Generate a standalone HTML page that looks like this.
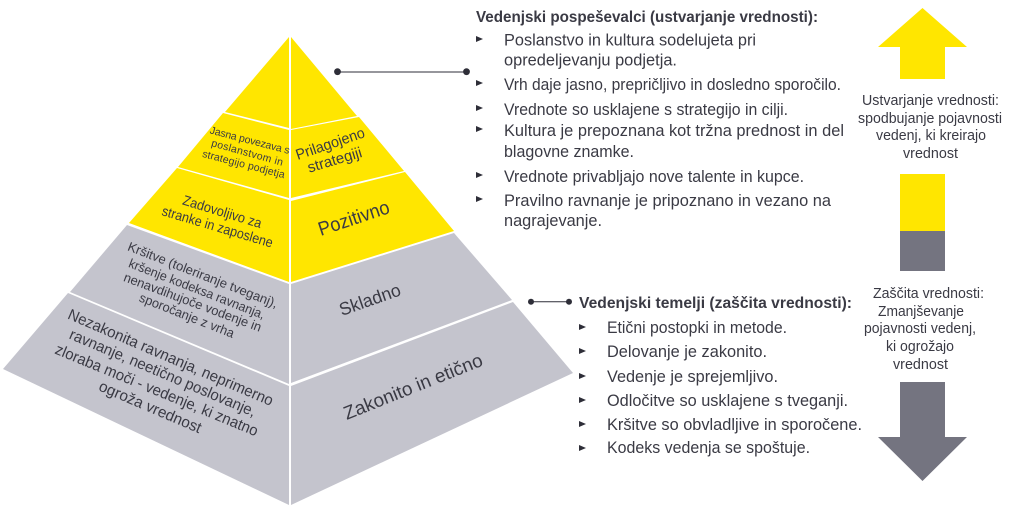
<!DOCTYPE html>
<html lang="sl">
<head>
<meta charset="utf-8">
<title>Vedenjska piramida</title>
<style>
html,body{margin:0;padding:0;background:#fff;width:1016px;height:508px;overflow:hidden}
svg{display:block}
text{font-family:"Liberation Sans","DejaVu Sans",sans-serif;fill:#3A3A44}
</style>
</head>
<body>
<svg width="1016" height="508" viewBox="0 0 1016 508" xmlns="http://www.w3.org/2000/svg">
<rect width="1016" height="508" fill="#fff"/>
<!-- pyramid -->
<g fill="#FFE600">
<polygon points="289,37 289,128 225,112"/>
<polygon points="291,37 357,116 291,129"/>
<polygon points="223,113 289,130 289,198 178,167"/>
<polygon points="291,130 359,117 404,171 291,198"/>
<polygon points="177,168 289,200 289,282 129,223"/>
<polygon points="291,201 405,172 454,231 291,282"/>
</g>
<g fill="#C4C4CD">
<polygon points="127,225 289,284 289,384 70,292"/>
<polygon points="291,284 454,233 512,300 291,383"/>
<polygon points="68,293 289,386 289,505 3,369"/>
<polygon points="291,386 513,302 573,373 291,505"/>
</g>
<!-- connectors -->
<g stroke="#2E2E38" fill="#2E2E38">
<line x1="337" y1="72" x2="467" y2="72" stroke-width="1"/>
<circle cx="337.5" cy="71.7" r="3.4" stroke="none"/>
<circle cx="466.5" cy="71.7" r="3.4" stroke="none"/>
<line x1="531" y1="301.7" x2="569" y2="301.7" stroke-width="1"/>
<circle cx="531" cy="301.7" r="3" stroke="none"/>
<circle cx="569" cy="301.7" r="3" stroke="none"/>
</g>
<!-- pyramid labels -->
<g font-size="10.5">
<text transform="translate(209.3,133.3) rotate(14.6)" textLength="82" lengthAdjust="spacing">Jasna povezava s</text>
<text transform="translate(210.7,146) rotate(15.5)" textLength="74" lengthAdjust="spacing">poslanstvom  in</text>
<text transform="translate(201.7,156.7) rotate(14.7)" textLength="85" lengthAdjust="spacing">strategijo podjetja</text>
</g>
<g font-size="15">
<text transform="translate(297.7,160) rotate(-18.8)" textLength="72" lengthAdjust="spacingAndGlyphs">Prilagojeno</text>
<text transform="translate(309.3,172.7) rotate(-16.7)" textLength="56" lengthAdjust="spacingAndGlyphs">strategiji</text>
<text transform="translate(181.7,204.3) rotate(17)" font-size="14" textLength="82" lengthAdjust="spacingAndGlyphs">Zadovoljivo za</text>
<text transform="translate(161,215) rotate(16.5)" font-size="14" textLength="115" lengthAdjust="spacingAndGlyphs">stranke in zaposlene</text>
<text transform="translate(320.7,236) rotate(-18.4)" font-size="19.5" textLength="74" lengthAdjust="spacingAndGlyphs">Pozitivno</text>
<text transform="translate(126.7,250) rotate(21.3)" font-size="13" textLength="160" lengthAdjust="spacingAndGlyphs">Kršitve (toleriranje tveganj),</text>
<text transform="translate(127.7,266.7) rotate(21.2)" font-size="13" textLength="145" lengthAdjust="spacingAndGlyphs">kršenje kodeksa ravnanja,</text>
<text transform="translate(122.7,280.7) rotate(20.5)" font-size="13" textLength="146" lengthAdjust="spacingAndGlyphs">nenavdihujoče vodenje  in</text>
<text transform="translate(138.3,301) rotate(21.5)" font-size="13" textLength="101" lengthAdjust="spacingAndGlyphs">sporočanje z vrha</text>
<text transform="translate(341.7,316) rotate(-19.3)" font-size="18" textLength="64" lengthAdjust="spacingAndGlyphs">Skladno</text>
<text transform="translate(66.7,318.3) rotate(23.3)" font-size="15.5" textLength="222" lengthAdjust="spacingAndGlyphs">Nezakonita ravnanja, neprimerno</text>
<text transform="translate(68.3,338.3) rotate(23)" font-size="15.5" textLength="201" lengthAdjust="spacingAndGlyphs">ravnanje, neetično poslovanje,</text>
<text transform="translate(54,353.3) rotate(22.4)" font-size="15.5" textLength="218" lengthAdjust="spacingAndGlyphs">zloraba moči - vedenje, ki znatno</text>
<text transform="translate(97.7,390) rotate(23.2)" font-size="15.5" textLength="110" lengthAdjust="spacingAndGlyphs">ogroža vrednost</text>
<text transform="translate(346.7,420) rotate(-21.8)" font-size="19" textLength="148" lengthAdjust="spacingAndGlyphs">Zakonito in etično</text>
</g>
<!-- upper list -->
<text x="476" y="22" font-size="16" font-weight="bold" textLength="342" lengthAdjust="spacingAndGlyphs">Vedenjski pospeševalci (ustvarjanje vrednosti):</text>
<g font-size="17">
<text x="504" y="45.5" textLength="252" lengthAdjust="spacingAndGlyphs">Poslanstvo in kultura sodelujeta pri</text>
<text x="504" y="65.5" textLength="173" lengthAdjust="spacingAndGlyphs">opredeljevanju podjetja.</text>
<text x="504" y="90" textLength="337" lengthAdjust="spacingAndGlyphs">Vrh daje jasno, prepričljivo in dosledno sporočilo.</text>
<text x="504" y="115" textLength="284" lengthAdjust="spacingAndGlyphs">Vrednote so usklajene s strategijo in cilji.</text>
<text x="504" y="136" textLength="340" lengthAdjust="spacingAndGlyphs">Kultura je prepoznana kot tržna prednost in del</text>
<text x="504" y="157" textLength="130" lengthAdjust="spacingAndGlyphs">blagovne znamke.</text>
<text x="504" y="182" textLength="300" lengthAdjust="spacingAndGlyphs">Vrednote privabljajo nove talente in kupce.</text>
<text x="504" y="206" textLength="327" lengthAdjust="spacingAndGlyphs">Pravilno ravnanje je pripoznano in vezano na</text>
<text x="504" y="226" textLength="98" lengthAdjust="spacingAndGlyphs">nagrajevanje.</text>
</g>
<g fill="#2E2E38">
<polygon points="476,36 483,39 476,42"/>
<polygon points="476,80 483,83 476,86"/>
<polygon points="476,105 483,108 476,111"/>
<polygon points="476,126 483,129 476,132"/>
<polygon points="476,172 483,175 476,178"/>
<polygon points="476,196 483,199 476,202"/>
</g>
<!-- lower list -->
<text x="579" y="308" font-size="16" font-weight="bold" textLength="273" lengthAdjust="spacingAndGlyphs">Vedenjski temelji (zaščita vrednosti):</text>
<g font-size="17">
<text x="607" y="333" textLength="180" lengthAdjust="spacingAndGlyphs">Etični postopki in metode.</text>
<text x="607" y="357" textLength="160" lengthAdjust="spacingAndGlyphs">Delovanje je zakonito.</text>
<text x="607" y="382" textLength="171" lengthAdjust="spacingAndGlyphs">Vedenje je sprejemljivo.</text>
<text x="607" y="406" textLength="241" lengthAdjust="spacingAndGlyphs">Odločitve so usklajene s tveganji.</text>
<text x="607" y="430" textLength="255" lengthAdjust="spacingAndGlyphs">Kršitve so obvladljive in sporočene.</text>
<text x="607" y="453" textLength="203" lengthAdjust="spacingAndGlyphs">Kodeks vedenja se spoštuje.</text>
</g>
<g fill="#2E2E38">
<polygon points="579,324 586,327 579,330"/>
<polygon points="579,348 586,351 579,354"/>
<polygon points="579,373 586,376 579,379"/>
<polygon points="579,397 586,400 579,403"/>
<polygon points="579,421 586,424 579,427"/>
<polygon points="579,445 586,448 579,451"/>
</g>
<!-- arrows -->
<polygon points="922.5,8 967,47 945,47 945,79 900,79 900,47 878,47" fill="#FFE600"/>
<rect x="900" y="174" width="45" height="57" fill="#FFE600"/>
<rect x="900" y="231" width="45" height="40" fill="#747480"/>
<polygon points="900,382 945,382 945,437 967,437 922.5,481 878,437 900,437" fill="#747480"/>
<!-- right captions -->
<g font-size="15">
<text x="862" y="105" textLength="137" lengthAdjust="spacingAndGlyphs">Ustvarjanje vrednosti:</text>
<text x="858" y="123" textLength="144" lengthAdjust="spacingAndGlyphs">spodbujanje pojavnosti</text>
<text x="876" y="140" textLength="110" lengthAdjust="spacingAndGlyphs">vedenj, ki kreirajo</text>
<text x="903" y="158" textLength="55" lengthAdjust="spacingAndGlyphs">vrednost</text>
<text x="873" y="298" textLength="111" lengthAdjust="spacingAndGlyphs">Zaščita vrednosti:</text>
<text x="878" y="316" textLength="86" lengthAdjust="spacingAndGlyphs">Zmanjševanje</text>
<text x="864" y="333" textLength="112" lengthAdjust="spacingAndGlyphs">pojavnosti vedenj,</text>
<text x="886" y="351" textLength="68" lengthAdjust="spacingAndGlyphs">ki ogrožajo</text>
<text x="893" y="369" textLength="55" lengthAdjust="spacingAndGlyphs">vrednost</text>
</g>
</svg>
</body>
</html>
